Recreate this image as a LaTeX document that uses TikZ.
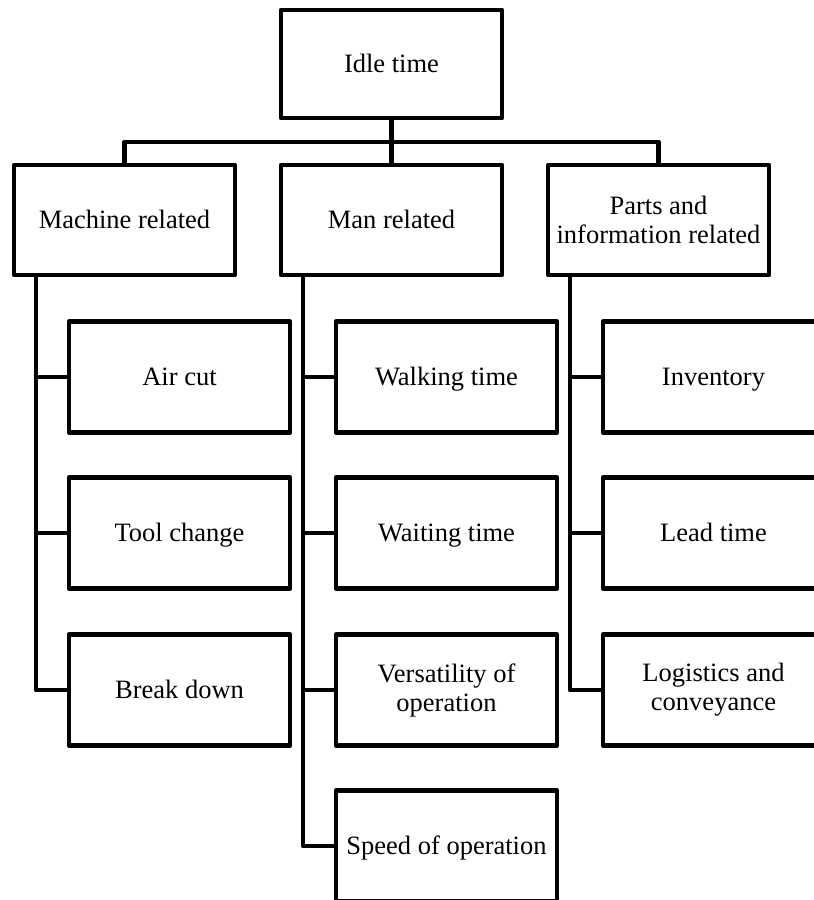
\documentclass[tikz,border=0pt]{standalone}
\usepackage{fontspec}
\setmainfont{Liberation Serif}
\begin{document}
\begin{tikzpicture}[x=1pt,y=-1pt,
  box/.style={draw=black, line width=4.5pt, line join=round, rectangle, outer sep=0pt,
    minimum width=221pt, minimum height=111pt, inner sep=2pt, align=center,
    font=\fontsize{26.5}{29}\selectfont},
  one/.style={box, text height=20pt, text depth=3pt},
  link/.style={draw=black, line width=4.5pt, line join=round, line cap=butt}]
\clip (0,0) rectangle (814,900);
\fill[white] (0,0) rectangle (814,900);
% top level
\node[one, minimum height=108pt] (idle) at (391.5,64) {Idle time};
% second level
\node[one, minimum height=110pt] (mach)  at (124.5,220) {Machine related};
\node[one, minimum height=110pt] (man)   at (391.5,220) {Man related};
\node[box, minimum height=110pt] (parts) at (658.5,220) {Parts and\\information related};
% children: machine
\node[one] (air)   at (179.5,377) {Air cut};
\node[one] (tool)  at (179.5,533) {Tool change};
\node[one] (brk)   at (179.5,690) {Break down};
% children: man
\node[one] (walk)  at (446.5,377) {Walking time};
\node[one] (wait)  at (446.5,533) {Waiting time};
\node[box] (vers)  at (446.5,690) {Versatility of\\operation};
\node[one] (speed) at (446.5,846) {Speed of operation};
% children: parts
\node[one] (inv)   at (713.5,377) {Inventory};
\node[one] (lead)  at (713.5,533) {Lead time};
\node[box] (logi)  at (713.5,690) {Logistics and\\conveyance};
% bus
\coordinate (bus) at (0,142);
\draw[link] (idle.south) -- (idle.south |- bus);
\draw[link] (mach.north) -- (mach.north |- bus) -- (parts.north |- bus) -- (parts.north);
\draw[link] (man.north) -- (man.north |- bus);
% spines
\coordinate (ms) at ([xshift=22pt]mach.south west);
\coordinate (ns) at ([xshift=22pt]man.south west);
\coordinate (ps) at ([xshift=22pt]parts.south west);
\draw[link] (ms) |- (brk.west);
\draw[link] (air.west -| ms) -- (air.west);
\draw[link] (tool.west -| ms) -- (tool.west);
\draw[link] (ns) |- (speed.west);
\draw[link] (walk.west -| ns) -- (walk.west);
\draw[link] (wait.west -| ns) -- (wait.west);
\draw[link] (vers.west -| ns) -- (vers.west);
\draw[link] (ps) |- (logi.west);
\draw[link] (inv.west -| ps) -- (inv.west);
\draw[link] (lead.west -| ps) -- (lead.west);
\end{tikzpicture}
\end{document}
